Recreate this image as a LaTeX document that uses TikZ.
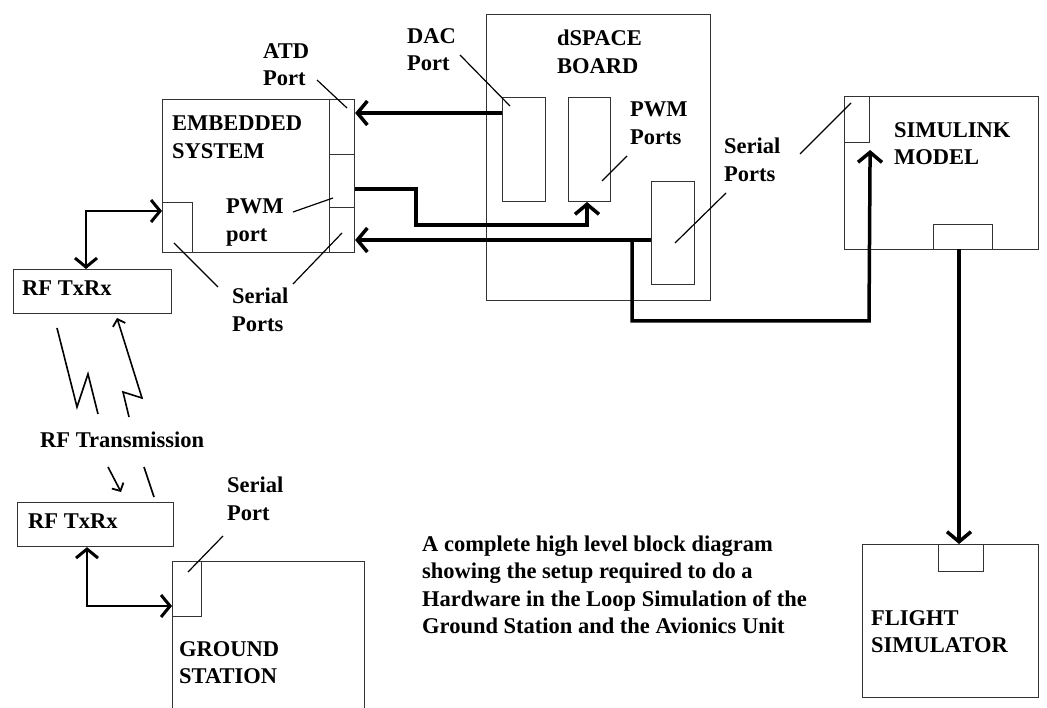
\documentclass[tikz,border=0pt]{standalone}
\usepackage{fontspec}
\setmainfont{Liberation Serif}
\usetikzlibrary{arrows.meta}
\tikzset{
  box/.style={draw=black!80, line width=1.1pt, inner sep=0pt, anchor=north west, fill=none},
  lbl/.style={font=\fontsize{22.5}{27.5}\selectfont\bfseries, align=left, anchor=north west, inner sep=0pt},
  leader/.style={line width=1.2pt},
  bigarrow/.style={line width=3.5pt, -{Straight Barb[length=10pt,width=24pt,line width=3.5pt]}},
  rfarrow/.style={line width=2.4pt, {Straight Barb[length=9pt,width=22pt,line width=3pt]}-{Straight Barb[length=9pt,width=22pt,line width=3pt]}},
  zig/.style={line width=1.6pt},
  zigarrow/.style={line width=1.6pt, -{Straight Barb[length=6pt,width=13pt,line width=1.8pt]}},
}
\newcommand\bx[5]{\node[box, minimum width=#4pt, minimum height=#5pt] (#1) at (#2,#3) {};}
\begin{document}
\begin{tikzpicture}[x=1pt,y=-1pt]
\useasboundingbox (0,0) rectangle (1047,708);
\clip (0,0) rectangle (1047,708);
\fill[white] (0,0) rectangle (1047,708);
% boxes
\bx{emb}{162}{99}{192}{153}
\bx{atdp}{329}{99}{25}{55}
\bx{pwmp}{329}{154}{25}{53}
\bx{serp}{329}{207}{25}{45}
\bx{embs}{162}{202}{30}{50}
\bx{ds}{486}{14}{224}{286}
\bx{dacp}{502}{97}{43}{104}
\bx{dspwm}{568}{97}{42}{104}
\bx{dsser}{651}{181}{43}{103}
\bx{sim}{844}{96}{194}{153}
\bx{simp}{844}{96}{25}{46}
\bx{simb}{933}{224}{59}{25}
\bx{rfa}{13}{269}{158}{44}
\bx{rfb}{17}{502}{156}{44}
\bx{gs}{172}{561}{192}{170}
\bx{gsp}{172}{561}{29}{55}
\bx{fs}{862}{544}{176}{153}
\bx{fsp}{938}{544}{45}{27}
% labels
\node[lbl] (tEmb) at (172,116) {EMBEDDED\\SYSTEM};
\node[lbl] (tAtd) at (263,43) {ATD\\Port};
\node[lbl] (tDac) at (407,28) {DAC\\Port};
\node[lbl] (tDs) at (557,30) {dSPACE\\BOARD};
\node[lbl] (tDsPwm) at (630,102) {PWM\\Ports};
\node[lbl] (tEmbPwm) at (226,199) {PWM\\port};
\node[lbl] (tDsSer) at (724,138) {Serial\\Ports};
\node[lbl] (tSim) at (894,122) {SIMULINK\\MODEL};
\node[lbl] (tRfa) at (22,281) {RF TxRx};
\node[lbl] (tEmbSer) at (232,288) {Serial\\Ports};
\node[lbl] (tRft) at (40,432) {RF Transmission};
\node[lbl] (tRfb) at (28,514) {RF TxRx};
\node[lbl] (tGsSer) at (227,477) {Serial\\Port};
\node[lbl] (tGs) at (179,641) {GROUND\\STATION};
\node[lbl] (tFs) at (871,610) {FLIGHT\\SIMULATOR};
\node[lbl] (tCap) at (422,535.5) {A complete high level block diagram\\showing the setup required to do a\\Hardware in the Loop Simulation of the\\Ground Station and the Avionics Unit};
% leader lines
\draw[leader] (317,80) -- (347,108);
\draw[leader] (460,55) -- (510,106);
\draw[leader] (627,156) -- (602,181);
\draw[leader] (293,212) -- (333,198);
\draw[leader] (726,193) -- (675,243);
\draw[leader] (800,154) -- (851,103);
\draw[leader] (218,287) -- (174,243);
\draw[leader] (293,284) -- (342,233);
\draw[leader] (223,536) -- (188,572);
% thick connectors
\draw[bigarrow] (dacp.west |- 0,113) -- (atdp.east |- 0,113);
\draw[bigarrow] (pwmp.east |- 0,189) -- (416,189) -- (416,225) -- (587,225) -- (587,202);
\draw[bigarrow] (dsser.west |- 0,240) -- (serp.east |- 0,240);
\draw[bigarrow] (632,240) -- (632,321) -- (869,321) -- (simp.east |- 0,150);
\draw[bigarrow] (959,249) -- (fsp.north -| 959,0);
% RF connectors
\draw[rfarrow] (rfa.north -| 86,0) -- (86,211) -- (embs.west |- 0,211);
\draw[rfarrow] (rfb.south -| 87,0) -- (87,606) -- (gsp.west |- 0,606);
% RF zigzags
\draw[zig] (57,328) -- (77,407) -- (88,374) -- (98,414);
\draw[zigarrow] (129,417) -- (123,392) -- (142,398) -- (117,318);
\draw[zigarrow] (108,467) -- (121,492);
\draw[zig] (144,467) -- (154,497);
\end{tikzpicture}
\end{document}
